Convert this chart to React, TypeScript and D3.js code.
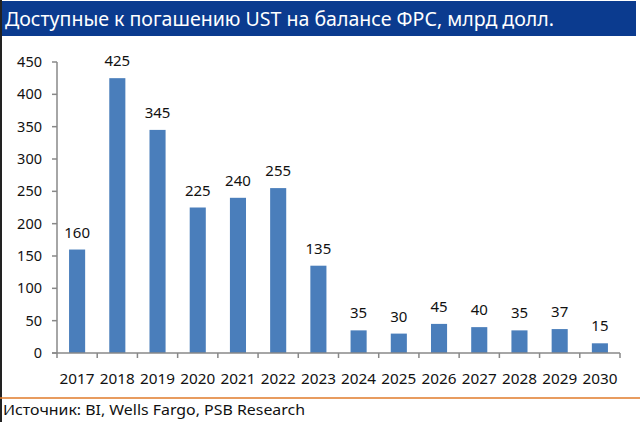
import React from "react";
import * as d3 from "d3";

const years = ["2017","2018","2019","2020","2021","2022","2023","2024","2025","2026","2027","2028","2029","2030"];
const values = [160, 425, 345, 225, 240, 255, 135, 35, 30, 45, 40, 35, 37, 15];
const yTicks = [0, 50, 100, 150, 200, 250, 300, 350, 400, 450];
const title = "Доступные к погашению UST на балансе ФРС, млрд долл.";
const source = "Источник: BI, Wells Fargo, PSB Research";

const W = 640, H = 422;
const x0 = 57, x1 = 620, yTop = 62, yBot = 353;

export default function App() {
  const x = d3.scaleBand<string>().domain(years).range([x0, x1]).paddingInner(0.6).paddingOuter(0.3);
  const xb = d3.scaleBand<string>().domain(years).range([x0, x1]);
  const y = d3.scaleLinear().domain([0, 450]).range([yBot, yTop]);
  const font = "'Noto Sans', 'Open Sans', sans-serif";
  return (
    <svg width={W} height={H} style={{ position: "absolute", left: 0, top: 0, background: "#fff" }}>
      <rect x={0} y={0} width={W} height={H} fill="#fff" />
      <rect x={0} y={1} width={636} height={35} fill="#0b3b8f" />
      <text x={5} y={26} fill="#fff" fontFamily={font} fontSize={20} textLength={549} lengthAdjust="spacingAndGlyphs">{title}</text>
      <line x1={1} x2={1} y1={0} y2={H} stroke="#222" strokeWidth={2} />
      {/* bars */}
      {years.map((yr, i) => (
        <rect key={yr} x={x(yr)} y={y(values[i])} width={x.bandwidth()} height={yBot - y(values[i])} fill="#4a7ebb" />
      ))}
      {years.map((yr, i) => (
        <text key={"v" + yr} x={x(yr)! + x.bandwidth() / 2} y={y(values[i]) - 12} textAnchor="middle" fontFamily={font} fontSize={15} fill="#111">{values[i]}</text>
      ))}
      {/* y axis */}
      <line x1={x0} x2={x0} y1={yTop} y2={yBot} stroke="#888" strokeWidth={1.5} />
      {yTicks.map(t => (
        <g key={t}>
          <line x1={x0 - 5} x2={x0} y1={y(t)} y2={y(t)} stroke="#888" strokeWidth={1.5} />
          <text x={42} y={y(t) + 5} textAnchor="end" fontFamily={font} fontSize={14.5} fill="#111">{t}</text>
        </g>
      ))}
      {/* x axis */}
      <line x1={x0 - 5} x2={x1} y1={yBot} y2={yBot} stroke="#888" strokeWidth={1.5} />
      {years.map((yr) => (
        <line key={"t" + yr} x1={xb(yr)! + xb.bandwidth()} x2={xb(yr)! + xb.bandwidth()} y1={yBot} y2={yBot + 5} stroke="#888" strokeWidth={1.5} />
      ))}
      <line x1={x0} x2={x0} y1={yBot} y2={yBot + 5} stroke="#888" strokeWidth={1.5} />
      {years.map(yr => (
        <text key={"l" + yr} x={xb(yr)! + xb.bandwidth() / 2} y={384} textAnchor="middle" fontFamily={font} fontSize={15} fill="#111" textLength={35} lengthAdjust="spacingAndGlyphs">{yr}</text>
      ))}
      <line x1={0} x2={W} y1={398} y2={398} stroke="#e07b2a" strokeWidth={1.5} />
      <text x={3} y={415} fontFamily={font} fontSize={14.5} fill="#111" textLength={302} lengthAdjust="spacingAndGlyphs">{source}</text>
    </svg>
  );
}
